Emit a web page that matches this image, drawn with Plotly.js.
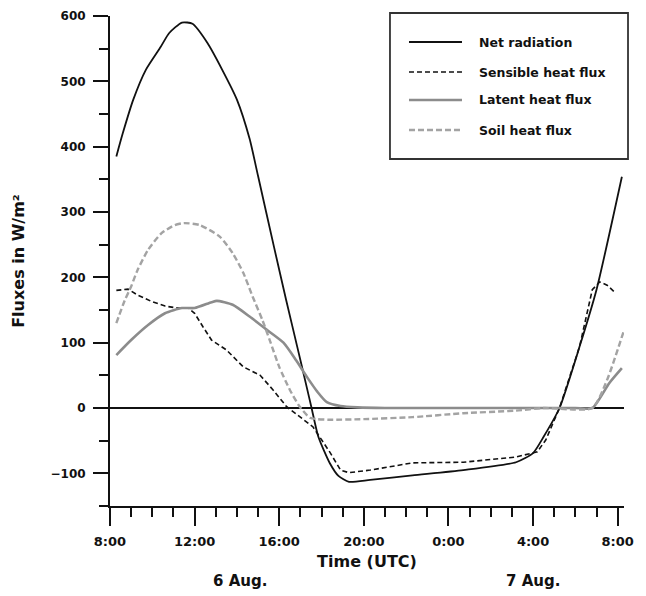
<!DOCTYPE html>
<html>
<head>
<meta charset="utf-8">
<script src="https://cdn.plot.ly/plotly-3.0.1.min.js"></script>
<style>html,body{margin:0;padding:0;background:#fff;}#chart{width:646px;height:596px;}</style>
</head>
<body>
<div id="chart"></div>
<script>
// Hours since 8:00 UTC on 6 Aug.
const tickHours = [0, 4, 8, 12, 16, 20, 24];
const tickLabels = ["8:00", "12:00", "16:00", "20:00", "0:00", "4:00", "8:00"];
const yTicks = [-100, 0, 100, 200, 300, 400, 500, 600];
const seriesNames = ["Net radiation", "Sensible heat flux", "Latent heat flux", "Soil heat flux"];

const netHours = [0.3, 0.6, 1.1, 1.7, 2.4, 2.8, 3.4, 3.9, 4.6, 5.3, 6.0, 6.6, 7.0, 7.75, 8.33, 8.85, 9.3, 9.53, 9.85, 10.4, 10.8, 11.3, 12.3, 14.3, 16.7, 19.2, 20.0, 20.5, 21.25, 22.2, 23.0, 24.2];
const netValues = [385, 420, 472, 518, 553, 574, 590, 588, 559, 518, 472, 412, 355, 247, 165, 94, 32, 0, -44, -85, -104, -113, -110, -103, -95, -83, -69, -44, 0, 94, 181, 354];

const sensibleHours = [0.3, 0.85, 1.3, 1.97, 2.6, 3.2, 3.7, 4.0, 4.4, 4.8, 5.5, 6.3, 7.1, 7.7, 8.35, 8.97, 9.6, 10.4, 10.9, 11.3, 12.3, 14.3, 16.7, 19.2, 20.2, 20.6, 21.25, 22.2, 22.8, 23.15, 23.5, 23.9];
const sensibleValues = [180, 182, 173, 163, 156, 153, 153, 145, 124, 104, 89, 63, 50, 28, 2, -13, -29, -68, -95, -99, -95, -84, -83, -75, -67, -49, 0, 94, 181, 193, 188, 176];

const latentHours = [0.3, 1.0, 1.8, 2.6, 3.4, 4.0, 4.8, 5.05, 5.8, 6.6, 7.4, 8.2, 8.8, 9.3, 9.8, 10.25, 10.9, 11.7, 13.0, 16.0, 19.0, 22.0, 22.8, 23.6, 24.2];
const latentValues = [81, 104, 127, 145, 153, 153, 162, 164, 158, 140, 120, 100, 73, 48, 25, 9, 3, 1, 0, 0, 0, 0, 0, 38, 61];

const soilHours = [0.3, 0.7, 1.0, 1.3, 1.8, 2.45, 3.07, 3.5, 4.25, 5.2, 5.8, 6.3, 6.75, 7.2, 7.55, 8.0, 8.5, 8.97, 9.45, 9.8, 10.4, 12.0, 14.3, 16.7, 19.2, 20.5, 22.8, 23.5, 24.3];
const soilValues = [130, 165, 186, 211, 242, 268, 280, 283, 280, 262, 237, 207, 170, 135, 104, 63, 28, 2, -15, -17, -18, -17, -14, -8, -4, 0, 0, 43, 119];

const styles = [
  {color: "#111111", width: 1.8, dash: "solid", shape: "spline"},
  {color: "#111111", width: 1.6, dash: "5px,3px", shape: "linear"},
  {color: "#8c8c8c", width: 2.6, dash: "solid", shape: "spline"},
  {color: "#a3a3a3", width: 2.4, dash: "6px,3px", shape: "spline"}
];
const xs = [netHours, sensibleHours, latentHours, soilHours];
const ys = [netValues, sensibleValues, latentValues, soilValues];

const traces = seriesNames.map((name, i) => ({
  type: "scatter", mode: "lines", name: name, x: xs[i], y: ys[i],
  line: {color: styles[i].color, width: styles[i].width, dash: styles[i].dash, shape: styles[i].shape, smoothing: 0.6},
  showlegend: false, hoverinfo: "skip"
}));

const F = "DejaVu Sans";
// custom legend box
const legX0 = 0.5447, legX1 = 1.0078, legY0 = 0.7082, legY1 = 1.0061;
const entryY = [0.9469, 0.8857, 0.8286, 0.7673];
const shapes = [{type: "rect", xref: "paper", yref: "paper", x0: legX0, x1: legX1, y0: legY0, y1: legY1,
  line: {color: "#333", width: 1.8}, fillcolor: "rgba(255,255,255,0)"}];
const annotations = [];
seriesNames.forEach((name, i) => {
  shapes.push({type: "line", xref: "paper", yref: "paper", x0: 0.5817, x1: 0.6848, y0: entryY[i], y1: entryY[i],
    line: {color: styles[i].color, width: styles[i].width, dash: styles[i].dash}});
  annotations.push({xref: "paper", yref: "paper", x: 0.714, y: entryY[i], xanchor: "left", yanchor: "middle",
    text: name, showarrow: false, font: {family: F, size: 12.5, weight: "bold", color: "#111"}});
});
annotations.push({xref: "x", yref: "paper", x: 6.15, y: -0.153, text: "6 Aug.", showarrow: false,
  xanchor: "center", yanchor: "middle", borderpad: 0, font: {family: F, size: 15, weight: "bold", color: "#111"}});
annotations.push({xref: "x", yref: "paper", x: 20.0, y: -0.153, text: "7 Aug.", showarrow: false,
  xanchor: "center", yanchor: "middle", borderpad: 0, font: {family: F, size: 15, weight: "bold", color: "#111"}});

const layout = {
  width: 646, height: 596,
  margin: {l: 110, r: 22, t: 16, b: 90},
  paper_bgcolor: "#fff", plot_bgcolor: "#fff",
  showlegend: false,
  xaxis: {
    range: [0, 24.3], tickmode: "array", tickvals: tickHours, ticktext: tickLabels,
    ticks: "outside", ticklen: 18, tickwidth: 2, tickcolor: "#111",
    showline: true, linewidth: 2, linecolor: "#111", showgrid: false, zeroline: false,
    minor: {tickmode: "linear", tick0: 0, dtick: 1, ticks: "outside", ticklen: 9, tickwidth: 2, tickcolor: "#111", showgrid: false},
    tickfont: {family: F, size: 13, weight: "bold", color: "#111"},
    ticklabelstandoff: 4,
    title: {text: "Time (UTC)", standoff: 8, font: {family: F, size: 16, weight: "bold", color: "#111"}},
    automargin: false
  },
  yaxis: {
    range: [-150, 600], tickmode: "array", tickvals: yTicks,
    ticks: "outside", ticklen: 15, tickwidth: 2, tickcolor: "#111",
    showline: true, linewidth: 2, linecolor: "#111", showgrid: false,
    zeroline: true, zerolinecolor: "#111", zerolinewidth: 2,
    minor: {tickmode: "linear", tick0: -150, dtick: 50, ticks: "outside", ticklen: 9, tickwidth: 2, tickcolor: "#111", showgrid: false},
    tickfont: {family: F, size: 12, weight: "bold", color: "#111"},
    ticklabelstandoff: 5,
    title: {text: "Fluxes in W/m²", standoff: 22, font: {family: F, size: 16, weight: "bold", color: "#111"}},
    automargin: false
  },
  shapes: shapes,
  annotations: annotations
};

Plotly.newPlot("chart", traces, layout, {staticPlot: true, displayModeBar: false});
</script>
</body>
</html>
